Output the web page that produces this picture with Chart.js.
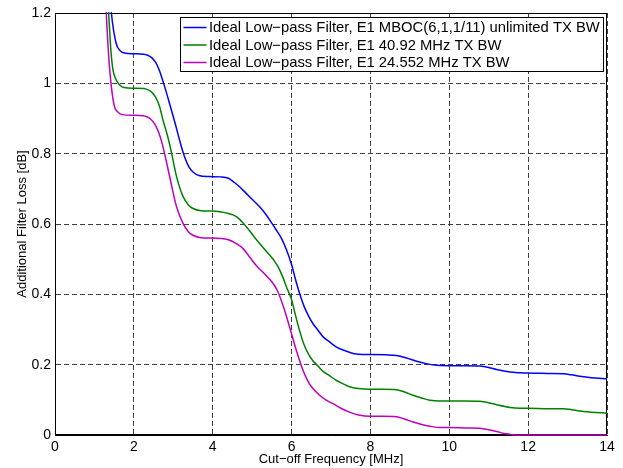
<!DOCTYPE html>
<html>
<head>
<meta charset="utf-8">
<script src="https://cdn.jsdelivr.net/npm/chart.js@4.4.0/dist/chart.umd.min.js"></script>
<style>
  html, body { margin: 0; padding: 0; background: #fff; }
  #wrap { width: 623px; height: 468px; }
</style>
</head>
<body>
<div id="wrap"><canvas id="chart" width="623" height="468"></canvas></div>
<script>
const seriesLabels = [
  'Ideal Low\u2212pass Filter, E1 MBOC(6,1,1/11) unlimited TX BW',
  'Ideal Low\u2212pass Filter, E1 40.92 MHz TX BW',
  'Ideal Low\u2212pass Filter, E1 24.552 MHz TX BW'
];
const seriesColors = ['#0000ff', '#008000', '#bf00bf'];

// cut-off frequency [MHz] / additional loss [dB]
const mbocFreq = [1.30, 1.43, 1.55, 1.65, 1.76, 2.0, 2.25, 2.35, 2.45, 2.55, 2.65, 2.75, 2.90, 3.05, 3.20, 3.30, 3.40, 3.50, 3.65, 3.9, 4.2, 4.4, 4.55, 4.68, 4.85, 5.02, 5.19, 5.35, 5.49, 5.60, 5.74, 5.87, 6.0, 6.1, 6.21, 6.32, 6.42, 6.54, 6.67, 6.80, 6.97, 7.14, 7.35, 7.56, 7.8, 8.0, 8.4, 8.66, 8.85, 9.0, 9.2, 9.42, 9.7, 10.0, 10.4, 10.77, 11.0, 11.2, 11.54, 11.8, 12.0, 12.5, 12.89, 13.1, 13.31, 13.6, 14.0];
const mbocLoss = [1.40, 1.20, 1.114, 1.093, 1.086, 1.084, 1.083, 1.080, 1.073, 1.060, 1.036, 1.002, 0.945, 0.885, 0.822, 0.787, 0.762, 0.748, 0.738, 0.735, 0.734, 0.730, 0.718, 0.706, 0.687, 0.668, 0.649, 0.627, 0.604, 0.585, 0.560, 0.527, 0.485, 0.442, 0.400, 0.365, 0.341, 0.317, 0.298, 0.279, 0.264, 0.250, 0.240, 0.232, 0.229, 0.229, 0.228, 0.226, 0.221, 0.216, 0.209, 0.203, 0.198, 0.197, 0.197, 0.196, 0.192, 0.186, 0.179, 0.177, 0.176, 0.175, 0.174, 0.171, 0.167, 0.163, 0.160];

const bw40Freq = [1.28, 1.36, 1.42, 1.47, 1.55, 1.64, 1.75, 2.0, 2.25, 2.35, 2.45, 2.55, 2.65, 2.74, 2.86, 2.96, 3.08, 3.24, 3.38, 3.50, 3.7, 4.0, 4.18, 4.4, 4.6, 4.77, 4.94, 5.11, 5.30, 5.45, 5.55, 5.66, 5.77, 5.87, 6.0, 6.1, 6.21, 6.32, 6.42, 6.54, 6.67, 6.80, 6.97, 7.14, 7.3, 7.47, 7.7, 7.98, 8.3, 8.66, 8.85, 9.08, 9.3, 9.51, 9.76, 10.0, 10.4, 10.77, 11.0, 11.2, 11.54, 11.8, 12.0, 12.5, 12.89, 13.1, 13.31, 13.6, 14.0];
const bw40Loss = [1.35, 1.20, 1.09, 1.038, 1.010, 0.995, 0.988, 0.986, 0.985, 0.982, 0.975, 0.961, 0.935, 0.895, 0.848, 0.800, 0.736, 0.680, 0.655, 0.644, 0.638, 0.637, 0.635, 0.630, 0.621, 0.603, 0.580, 0.555, 0.530, 0.511, 0.497, 0.478, 0.451, 0.421, 0.385, 0.340, 0.294, 0.256, 0.232, 0.211, 0.196, 0.181, 0.168, 0.155, 0.146, 0.137, 0.132, 0.130, 0.130, 0.129, 0.123, 0.113, 0.105, 0.099, 0.097, 0.097, 0.097, 0.096, 0.092, 0.086, 0.078, 0.076, 0.076, 0.075, 0.075, 0.072, 0.068, 0.065, 0.062];

const bw24Freq = [1.24, 1.30, 1.36, 1.43, 1.51, 1.60, 1.70, 2.0, 2.23, 2.33, 2.43, 2.53, 2.63, 2.72, 2.82, 2.95, 3.08, 3.24, 3.38, 3.50, 3.7, 4.0, 4.18, 4.4, 4.6, 4.77, 4.95, 5.11, 5.3, 5.45, 5.55, 5.65, 5.79, 5.95, 6.12, 6.29, 6.40, 6.50, 6.71, 6.88, 7.05, 7.25, 7.47, 7.7, 7.98, 8.3, 8.66, 8.85, 9.08, 9.3, 9.51, 9.76, 10.0, 10.4, 10.77, 11.0, 11.2, 11.4, 11.6, 11.8, 12.0, 14.0];
const bw24Loss = [1.35, 1.20, 1.08, 0.990, 0.933, 0.918, 0.911, 0.909, 0.908, 0.905, 0.898, 0.884, 0.860, 0.828, 0.780, 0.713, 0.650, 0.603, 0.578, 0.568, 0.561, 0.560, 0.559, 0.555, 0.544, 0.530, 0.504, 0.481, 0.460, 0.442, 0.428, 0.408, 0.366, 0.307, 0.241, 0.184, 0.156, 0.138, 0.113, 0.099, 0.089, 0.076, 0.065, 0.057, 0.053, 0.053, 0.052, 0.046, 0.037, 0.030, 0.025, 0.021, 0.021, 0.020, 0.019, 0.015, 0.010, 0.004, 0.001, 0, 0, 0];

const xTickValues = [0, 2, 4, 6, 8, 10, 12, 14];
const yTickValues = [0, 0.2, 0.4, 0.6, 0.8, 1, 1.2];

const toPoints = (xs, ys) => xs.map((x, i) => ({x: x, y: ys[i]}));
const seriesPoints = [
  toPoints(mbocFreq, mbocLoss),
  toPoints(bw40Freq, bw40Loss),
  toPoints(bw24Freq, bw24Loss)
];

const tickFont = {family: '"Liberation Sans", Arial, sans-serif', size: 14};
const titleFont = {family: '"Liberation Sans", Arial, sans-serif', size: 13};

// matlab style box around the axes
const axesBox = {
  id: 'axesBox',
  beforeDatasetsDraw(chart) {
    const {ctx, chartArea: a} = chart;
    ctx.save();
    ctx.strokeStyle = '#000';
    ctx.lineWidth = 1;
    const l = Math.round(a.left) + 0.5, t = Math.round(a.top) + 0.5;
    const r = Math.round(a.right) - 0.5, b = Math.round(a.bottom) - 0.5;
    ctx.strokeRect(l, t, r - l, b - t);
    ctx.restore();
  }
};

// legend drawn inside the plot, top right
const innerLegend = {
  id: 'innerLegend',
  afterDatasetsDraw(chart) {
    const {ctx, chartArea: a} = chart;
    ctx.save();
    ctx.font = '14.8px "Liberation Sans", Arial, sans-serif';
    const textW = Math.max(...chart.data.datasets.map(d => ctx.measureText(d.label).width));
    const boxW = Math.round(textW + 32);
    const boxH = 54;
    const bx = Math.round(a.right - 4 - boxW) + 0.5;
    const by = Math.round(a.top + 4) + 0.5;
    ctx.fillStyle = '#fff';
    ctx.fillRect(bx, by, boxW, boxH);
    ctx.strokeStyle = '#000';
    ctx.lineWidth = 1;
    ctx.strokeRect(bx, by, boxW, boxH);
    chart.data.datasets.forEach((d, i) => {
      const y = by + 10 + i * 17.5;
      ctx.strokeStyle = d.borderColor;
      ctx.lineWidth = 1.5;
      ctx.beginPath();
      ctx.moveTo(bx + 3, y);
      ctx.lineTo(bx + 26, y);
      ctx.stroke();
      ctx.fillStyle = '#000';
      ctx.textAlign = 'left';
      ctx.textBaseline = 'middle';
      ctx.fillText(d.label, bx + 28.5, y + 0.5);
    });
    ctx.restore();
  }
};

new Chart(document.getElementById('chart'), {
  type: 'line',
  data: {
    datasets: seriesPoints.map((pts, i) => ({
      label: seriesLabels[i],
      data: pts,
      borderColor: seriesColors[i],
      backgroundColor: seriesColors[i],
      borderWidth: 1.5,
      pointRadius: 0,
      fill: false,
      clip: {left: 1, top: 1, right: 1, bottom: 2},
      cubicInterpolationMode: 'monotone'
    }))
  },
  options: {
    responsive: false,
    devicePixelRatio: 1,
    animation: false,
    layout: {padding: {left: 0, right: 16, top: 13, bottom: 0}},
    plugins: {
      legend: {display: false},
      tooltip: {enabled: false}
    },
    scales: {
      x: {
        type: 'linear',
        min: 0,
        max: 14,
        afterBuildTicks: s => { s.ticks = xTickValues.map(v => ({value: v})); },
        afterFit: s => { s.height = 33; },
        grid: {color: '#404040', lineWidth: 1, drawTicks: false},
        border: {display: true, color: '#000', width: 1, dash: [5, 3]},
        ticks: {color: '#000', font: tickFont, padding: 4, maxRotation: 0, callback: v => String(v)},
        title: {display: true, text: 'Cut\u2212off Frequency [MHz]', color: '#000', font: titleFont, padding: {top: 0, bottom: 1}}
      },
      y: {
        min: 0,
        max: 1.2,
        afterBuildTicks: s => { s.ticks = yTickValues.map(v => ({value: v})); },
        afterFit: s => { s.width = 55; },
        grid: {color: '#404040', lineWidth: 1, drawTicks: false},
        border: {display: true, color: '#000', width: 1, dash: [5, 3]},
        ticks: {color: '#000', font: tickFont, padding: 4, callback: v => String(Math.round(v * 10) / 10)},
        title: {display: true, text: 'Additional Filter Loss [dB]', color: '#000', font: titleFont, padding: {top: 15, bottom: 0}}
      }
    }
  },
  plugins: [axesBox, innerLegend]
});
</script>
</body>
</html>
